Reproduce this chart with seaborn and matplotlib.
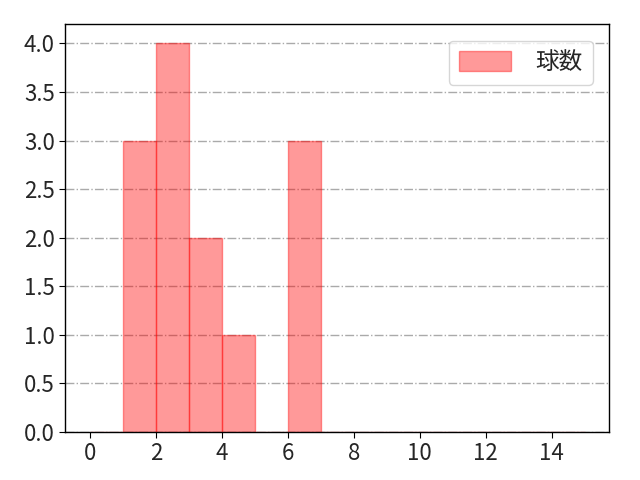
import matplotlib
matplotlib.use("Agg")
import matplotlib.pyplot as plt
import seaborn as sns
import numpy as np

# 球数ごとの度数 (bin left edge -> count)
bin_left = list(range(0, 15))
counts = [0, 3, 4, 2, 1, 0, 3, 0, 0, 0, 0, 0, 0, 0, 0]
bin_edges = list(range(0, 16))
label = "球数"

sns.set_style("white")
plt.rcParams["font.family"] = ["Noto Sans CJK JP", "DejaVu Sans"]

fig, ax = plt.subplots(figsize=(6.4, 4.8), dpi=100)
fig.subplots_adjust(left=0.102, right=0.952, top=0.95, bottom=0.1)

sns.histplot(
    x=bin_left,
    weights=counts,
    bins=bin_edges,
    color="red",
    alpha=0.4,
    edgecolor=(1, 0, 0, 0.4),
    linewidth=1,
    label=label,
    ax=ax,
)

ax.set_xlim(-0.75, 15.75)
ax.set_ylim(0, 4.2)
ax.set_xticks(range(0, 15, 2))
ax.set_yticks(np.arange(0, 4.01, 0.5))
ax.set_yticklabels([f"{v:.1f}" for v in np.arange(0, 4.01, 0.5)])
ax.set_xlabel("")
ax.set_ylabel("")
ax.tick_params(labelsize=16, length=4, left=True, bottom=True, color="black")
for s in ax.spines.values():
    s.set_color("black")
    s.set_linewidth(1)
ax.yaxis.grid(True, linestyle="-.", color="#aaaaaa", linewidth=1)
ax.set_axisbelow(True)
ax.legend(fontsize=17, handlelength=2.2, handleheight=0.9, handletextpad=1.0,
          loc="upper right", borderpad=0.45, borderaxespad=0.7)

fig.savefig("out.png", dpi=100)
